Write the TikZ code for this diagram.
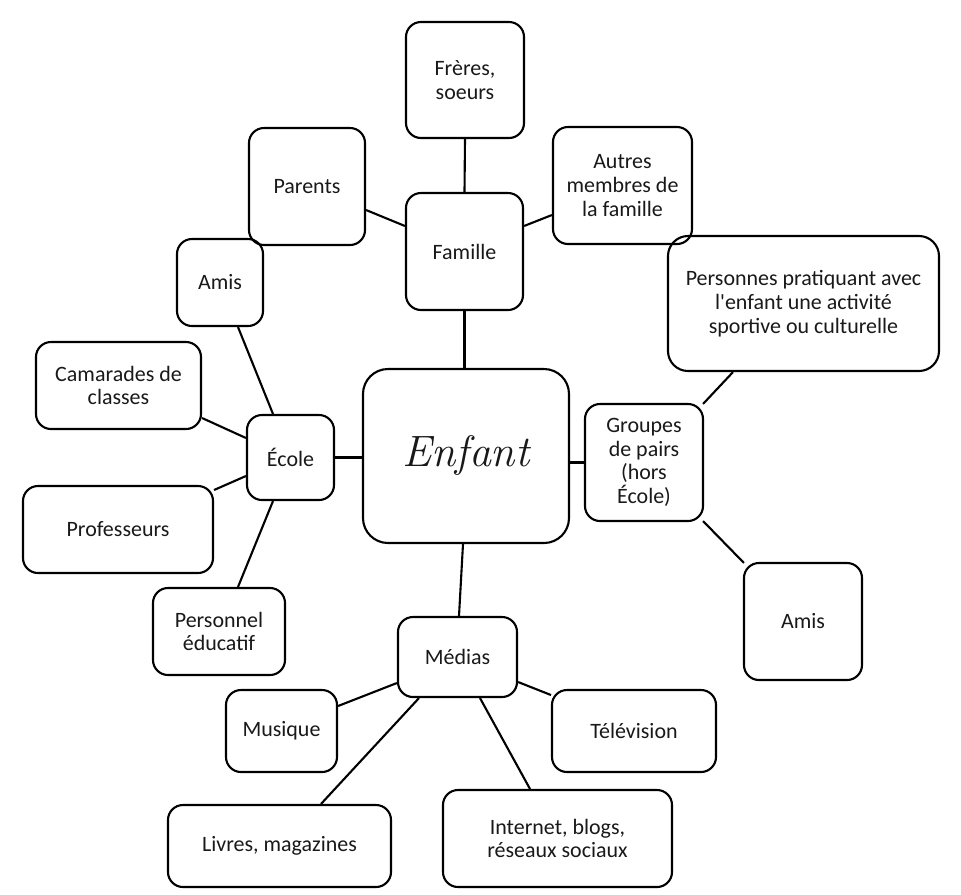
\documentclass[tikz,border=0pt]{standalone}
\usepackage{fontspec}
\newfontfamily\calfont{Carlito}
\usetikzlibrary{calc}
\begin{document}
\begin{tikzpicture}[x=0.02cm,y=-0.02cm,
  box/.style 2 args={draw=black, line width=1.2pt, rounded corners=0.3cm,
    minimum width=#1*0.02cm, minimum height=#2*0.02cm, inner sep=0pt,
    align=center, font=\calfont\fontsize{12.5}{13.5}\selectfont, text=black!90},
  link/.style={line width=1.2pt, draw=black}]
\useasboundingbox (0,0) rectangle (961,894);

\node[box={118}{116}] (fr) at (465,80) {Frères,\\soeurs};
\node[box={116}{117}] (pa) at (307,186.5) {Parents};
\node[box={139}{117}] (au) at (622.5,185.5) {Autres\\membres de\\la famille};
\node[box={117}{117}] (fa) at (464.5,251.5) {Famille};
\node[box={86}{87}] (am1) at (220,282.5) {Amis};
\node[box={271}{135}, rounded corners=0.4cm] (pe) at (803.5,303.5) {Personnes pratiquant avec\\l'enfant une activité\\sportive ou culturelle};
\node[box={165}{87}] (ca) at (118.5,385.5) {Camarades de\\classes};
\node[box={87}{85}] (ec) at (290.5,457.5) {École};
\node[box={206}{174}, rounded corners=0.5cm, font=\rmfamily\itshape\fontsize{25}{30}\selectfont] (en) at (466,456) {Enfant};
\node[box={118}{117}] (gr) at (644,462.5) {Groupes\\de pairs\\(hors\\École)};
\node[box={190}{87}] (pr) at (118,529.5) {Professeurs};
\node[box={118}{117}] (am2) at (803,621.5) {Amis};
\node[box={132}{87}] (ps) at (219,631.5) {Personnel\\éducatif};
\node[box={119}{80}] (me) at (457.5,657) {Médias};
\node[box={111}{82}] (mu) at (281.5,731) {Musique};
\node[box={164}{82}] (te) at (634,731) {Télévision};
\node[box={223}{82}] (li) at (279.5,846) {Livres, magazines};
\node[box={229}{97}] (in) at (557.5,838.5) {Internet, blogs,\\réseaux sociaux};

\draw[link] (fr.south) -- (fa.north);
\draw[link] ($(pa.east)+(0,23.5)$) -- ($(fa.west)+(0,-25.5)$);
\draw[link] ($(au.west)+(0,29.5)$) -- ($(fa.east)+(0,-25.5)$);
\draw[link] (fa.south) -- (fa.south |- en.north);
\draw[link] ($(am1.south)+(18,0)$) -- ($(ec.north)+(-17.5,0)$);
\draw[link] ($(ca.east)+(0,32.5)$) -- ($(ec.west)+(0,-19.5)$);
\draw[link] ($(pr.east)+(0,-39.5)$) -- ($(ec.west)+(0,18.5)$);
\draw[link] ($(ps.north)+(19,0)$) -- ($(ec.south)+(-17.5,0)$);
\draw[link] (ec.east) -- (ec.east -| en.west);
\draw[link] (gr.west -| en.east) -- (gr.west);
\draw[link] ($(gr.north east)+(-1,1)$) -- ($(pe.south)+(-70.5,0)$);
\draw[link] ($(gr.south east)+(-1,-1)$) -- ($(am2.north west)+(1,1)$);
\draw[link] ($(en.south)+(-3,0)$) -- ($(me.north)+(1.5,0)$);
\draw[link] ($(me.west)+(0,26)$) -- ($(mu.east)+(0,-25)$);
\draw[link] ($(me.south)+(-38.5,0)$) -- ($(li.north)+(41.5,0)$);
\draw[link] ($(me.south)+(22.5,0)$) -- ($(in.north)+(-27.5,0)$);
\draw[link] ($(me.east)+(0,25)$) -- ($(te.west)+(0,-36)$);
\end{tikzpicture}
\end{document}
